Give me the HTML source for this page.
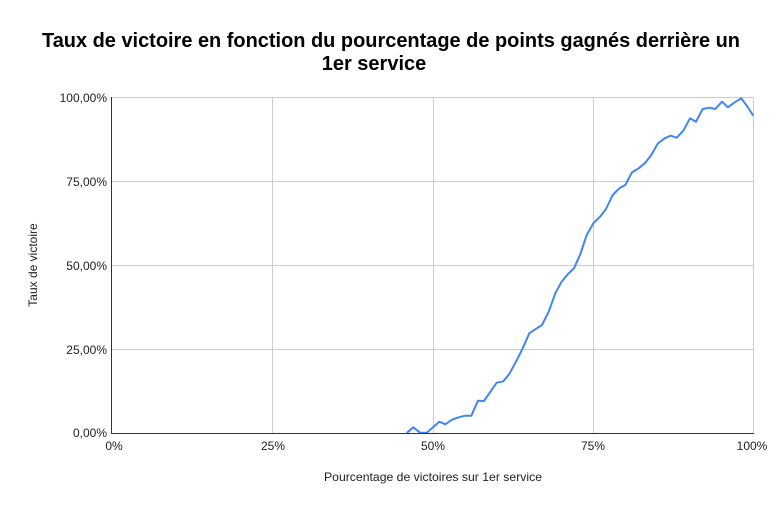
<!DOCTYPE html>
<html><head><meta charset="utf-8"><style>
html,body{margin:0;padding:0;background:#fff;}
svg{display:block;}
text{font-family:"Liberation Sans",Arial,sans-serif;}
</style></head><body>
<svg width="779" height="511" viewBox="0 0 779 511" xmlns="http://www.w3.org/2000/svg">
<rect width="779" height="511" fill="#fff"/>
<text x="391" y="47" font-size="20" font-weight="bold" text-anchor="middle" fill="#000" textLength="698" lengthAdjust="spacingAndGlyphs">Taux de victoire en fonction du pourcentage de points gagnés derrière un</text>
<text x="374" y="70" font-size="20" font-weight="bold" text-anchor="middle" fill="#000">1er service</text>
<g stroke="#cccccc" stroke-width="1" fill="none">
<line x1="112" y1="97.5" x2="753.5" y2="97.5"/>
<line x1="112" y1="181.5" x2="753.5" y2="181.5"/>
<line x1="112" y1="265.5" x2="753.5" y2="265.5"/>
<line x1="112" y1="349.5" x2="753.5" y2="349.5"/>
<line x1="272.5" y1="97" x2="272.5" y2="433"/>
<line x1="433.5" y1="97" x2="433.5" y2="433"/>
<line x1="593.5" y1="97" x2="593.5" y2="433"/>
<line x1="753.5" y1="97" x2="753.5" y2="433"/>
</g>
<polyline fill="none" stroke="#4285f4" stroke-width="2" stroke-linejoin="round" points="406.7,433 413.3,427.3 420,432.7 426.7,432.7 433,427.2 439.3,421.7 445.3,424.3 452,419.7 458.7,417.3 465.3,415.7 471.3,415.7 478,400.7 484,401 490.7,391.3 496.7,382.7 503.3,381.3 509.3,374 516,361.7 522.7,348.3 529.3,333.3 535.3,329.3 542,325 548.7,311.7 555.3,293.3 561.3,282.3 568,274 574,268.3 580.4,254 586.7,235 593.3,223.3 600,216.7 606,209 612.7,195 619.3,188.3 625.3,185 632,172.3 638.7,168.3 645.3,162.7 651.3,155 658,143.3 664.7,138.3 670.7,135.7 676.7,137.7 683.3,130.7 690,118.3 696,121.7 702.7,109 709.3,107.7 715.3,109 722,101.7 728,107.3 734.7,102.3 741.3,98.3 747.3,106.5 753.3,115.7"/>
<line x1="111.5" y1="97" x2="111.5" y2="433.5" stroke="#333" stroke-width="1"/>
<line x1="111" y1="433.5" x2="754" y2="433.5" stroke="#333" stroke-width="1"/>
<g font-size="12" fill="#222" text-anchor="end">
<text x="107" y="102">100,00%</text>
<text x="107" y="186">75,00%</text>
<text x="107" y="270">50,00%</text>
<text x="107" y="354">25,00%</text>
<text x="107" y="437">0,00%</text>
</g>
<g font-size="12" fill="#222" text-anchor="middle">
<text x="114" y="450">0%</text>
<text x="273" y="450">25%</text>
<text x="433" y="450">50%</text>
<text x="593" y="450">75%</text>
<text x="752" y="450">100%</text>
</g>
<text x="433" y="481" font-size="12" fill="#222" text-anchor="middle" textLength="218" lengthAdjust="spacingAndGlyphs">Pourcentage de victoires sur 1er service</text>
<text transform="translate(37,265) rotate(-90)" font-size="12" fill="#222" text-anchor="middle">Taux de victoire</text>
</svg>
</body></html>
